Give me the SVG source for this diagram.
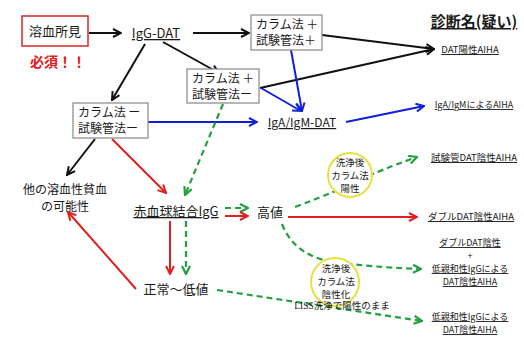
<svg xmlns="http://www.w3.org/2000/svg" width="524" height="337" viewBox="0 0 524 337">
<defs>
<style>
text{font-family:"Noto Sans CJK JP","Liberation Sans",sans-serif;fill:#1a1a1a}
.box{fill:#fff;stroke:#888;stroke-width:1.2}
.t12{font-size:12px}
.t13{font-size:13px}
.t9{font-size:9.5px}
.s9{font-size:9px}
.t10{font-size:9.5px}
.ul{text-decoration:underline}
.k{stroke:#111;stroke-width:2;fill:none}
.b{stroke:#1020d8;stroke-width:2;fill:none}
.r{stroke:#e02020;stroke-width:2;fill:none}
.g{stroke:#22a040;stroke-width:2.2;fill:none;stroke-dasharray:6 4}
.circ{fill:#fff;stroke:#e8e040;stroke-width:2}
</style>
<marker id="mk" viewBox="0 0 10 10" refX="9" refY="5" markerWidth="10" markerHeight="10" markerUnits="userSpaceOnUse" orient="auto"><path d="M1,1 L9,5 L1,9" fill="none" stroke="#111" stroke-width="2"/></marker>
<marker id="mb" viewBox="0 0 10 10" refX="9" refY="5" markerWidth="10" markerHeight="10" markerUnits="userSpaceOnUse" orient="auto"><path d="M1,1 L9,5 L1,9" fill="none" stroke="#1020d8" stroke-width="2"/></marker>
<marker id="mr" viewBox="0 0 10 10" refX="9" refY="5" markerWidth="10" markerHeight="10" markerUnits="userSpaceOnUse" orient="auto"><path d="M1,1 L9,5 L1,9" fill="none" stroke="#e02020" stroke-width="2"/></marker>
<marker id="mg" viewBox="0 0 10 10" refX="9" refY="5" markerWidth="10" markerHeight="10" markerUnits="userSpaceOnUse" orient="auto"><path d="M1,1 L9,5 L1,9" fill="none" stroke="#22a040" stroke-width="2.2"/></marker>
</defs>
<rect width="524" height="337" fill="#fff"/>

<g id="connectors">
<line class="k" x1="89" y1="33" x2="121" y2="33" marker-end="url(#mk)"/>
<line class="k" x1="193" y1="33" x2="249" y2="33" marker-end="url(#mk)"/>
<line class="k" x1="145" y1="44" x2="112" y2="100" marker-end="url(#mk)"/>
<line class="k" x1="163" y1="42" x2="219" y2="73" marker-end="url(#mk)"/>
<line class="k" x1="322" y1="35" x2="434" y2="49" marker-end="url(#mk)"/>
<line class="k" x1="260" y1="88" x2="434" y2="49" marker-end="url(#mk)"/>
<line class="b" x1="291" y1="50" x2="302" y2="111" marker-end="url(#mb)"/>
<line class="b" x1="261" y1="88" x2="301" y2="111" marker-end="url(#mb)"/>
<line class="b" x1="148" y1="122" x2="257" y2="122" marker-end="url(#mb)"/>
<line class="b" x1="346" y1="122" x2="424" y2="106" marker-end="url(#mb)"/>
<line class="k" x1="95" y1="139" x2="67" y2="175" marker-end="url(#mk)"/>
<line class="r" x1="112" y1="139" x2="166" y2="193" marker-end="url(#mr)"/>
<line class="g" x1="223" y1="104" x2="185" y2="195" marker-end="url(#mg)"/>
<line class="g" x1="225" y1="208" x2="248" y2="208" marker-end="url(#mg)"/>
<line class="r" x1="225" y1="216" x2="248" y2="216" marker-end="url(#mr)"/>
<line class="r" x1="170" y1="221" x2="170" y2="274" marker-end="url(#mr)"/>
<line class="g" x1="186" y1="221" x2="186" y2="274" marker-end="url(#mg)"/>
<line class="r" x1="288" y1="217" x2="417" y2="217" marker-end="url(#mr)"/>
<path class="g" d="M295,207 Q340,190 360,180 T417,157" marker-end="url(#mg)"/>
<path class="g" d="M282,224 Q295,258 340,263 T421,269" marker-end="url(#mg)"/>
<line class="g" x1="217" y1="290" x2="422" y2="321" marker-end="url(#mg)"/>
<line class="r" x1="136" y1="289" x2="68" y2="212" marker-end="url(#mr)"/>
</g>

<g id="hemolysis">
<rect x="22" y="16" width="66" height="30" fill="#fff" stroke="#d02828" stroke-width="1.5"/>
<text class="t13" x="55" y="36" text-anchor="middle">溶血所見</text>
</g>
<g id="required"><text x="58" y="67" text-anchor="middle" style="font-size:14px;font-weight:bold;fill:#e02020">必須！！</text></g>
<g id="igg-dat"><text class="t13 ul" x="156" y="38" text-anchor="middle">IgG-DAT</text></g>

<g id="box-pp">
<rect class="box" x="251" y="15" width="71" height="35"/>
<text class="t12" x="256" y="29">カラム法 ＋</text>
<text class="t12" x="256" y="45">試験管法＋</text>
</g>
<g id="box-pm">
<rect class="box" x="187" y="69" width="72" height="34"/>
<text class="t12" x="192" y="83">カラム法 ＋</text>
<text class="t12" x="192" y="99">試験管法ー</text>
</g>
<g id="box-mm">
<rect class="box" x="73" y="103" width="75" height="35"/>
<text class="t12" x="78" y="117">カラム法 ー</text>
<text class="t12" x="78" y="133">試験管法ー</text>
</g>

<g id="diag-title"><text class="ul" x="474" y="27" text-anchor="middle" style="font-size:15px;font-weight:bold">診断名(疑い)</text></g>
<g id="dat-pos"><text class="t9 ul" x="470" y="53" text-anchor="middle">DAT陽性AIHA</text></g>
<g id="igam-dat"><text class="t12 ul" x="302" y="127" text-anchor="middle">IgA/IgM-DAT</text></g>
<g id="igam-aiha"><text class="ul" x="474" y="108" text-anchor="middle" style="font-size:9px">IgA/IgMによるAIHA</text></g>

<g id="other">
<text class="t12" x="65" y="194" text-anchor="middle">他の溶血性貧血</text>
<text class="t12" x="65" y="211" text-anchor="middle">の可能性</text>
</g>
<g id="rbc-igg"><text class="t13 ul" x="176" y="216" text-anchor="middle">赤血球結合IgG</text></g>
<g id="high"><text class="t13" x="270" y="217" text-anchor="middle">高値</text></g>
<g id="low"><text class="t13" x="176" y="294" text-anchor="middle">正常～低値</text></g>

<g id="circle-pos">
<circle class="circ" cx="350" cy="175" r="22"/>
<text class="t10" x="350" y="166" text-anchor="middle">洗浄後</text>
<text class="t10" x="350" y="179" text-anchor="middle">カラム法</text>
<text class="t10" x="350" y="192" text-anchor="middle">陽性</text>
</g>
<g id="circle-neg">
<circle class="circ" cx="335" cy="282" r="24"/>
<text class="t10" x="336" y="272" text-anchor="middle">洗浄後</text>
<text class="t10" x="336" y="285" text-anchor="middle">カラム法</text>
<text class="t10" x="336" y="298" text-anchor="middle">陰性化</text>
</g>
<g id="liss"><text x="342" y="309" text-anchor="middle" style="font-size:9.5px;font-family:'Liberation Serif','Noto Sans CJK JP',serif">LISS洗浄で陽性のまま</text></g>

<g id="tube-neg"><text class="t9 ul" x="474" y="161" text-anchor="middle">試験管DAT陰性AIHA</text></g>
<g id="double-neg"><text class="t9 ul" x="471" y="220" text-anchor="middle">ダブルDAT陰性AIHA</text></g>
<g id="double-low">
<text class="s9 ul" x="470" y="246" text-anchor="middle">ダブルDAT陰性</text>
<text class="s9" x="470" y="259" text-anchor="middle">+</text>
<text class="s9 ul" x="470" y="272" text-anchor="middle">低親和性IgGによる</text>
<text class="s9 ul" x="470" y="285" text-anchor="middle">DAT陰性AIHA</text>
</g>
<g id="low-affinity">
<text class="s9 ul" x="470" y="320" text-anchor="middle">低親和性IgGによる</text>
<text class="s9 ul" x="470" y="333" text-anchor="middle">DAT陰性AIHA</text>
</g>
</svg>
